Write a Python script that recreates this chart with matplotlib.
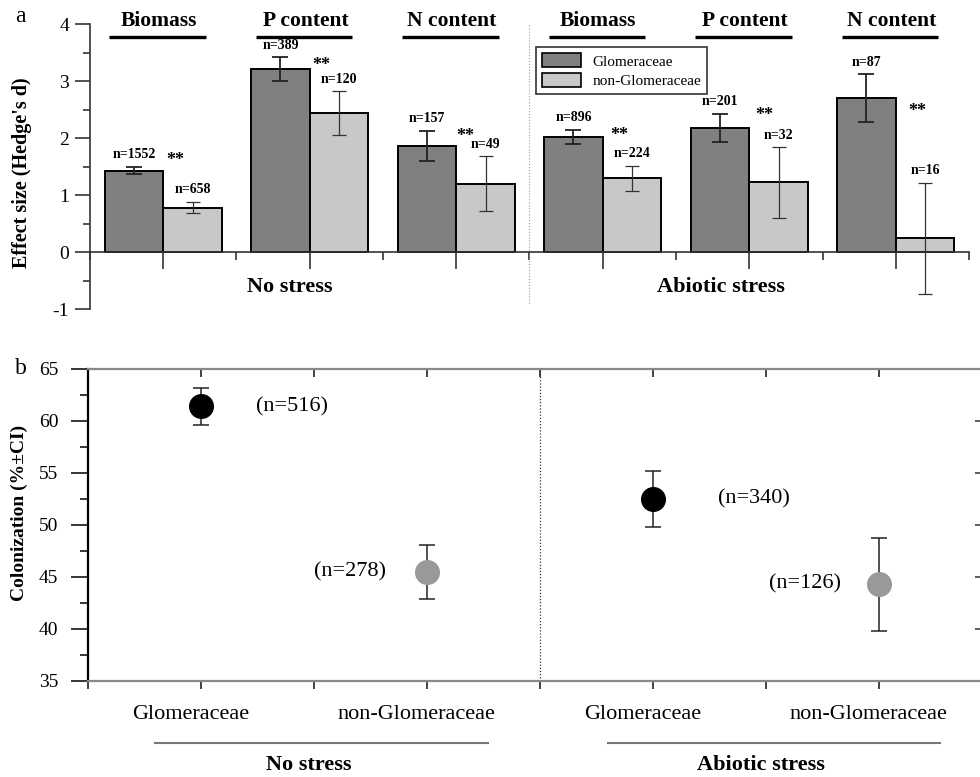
import numpy as np
import matplotlib
matplotlib.use("Agg")
import matplotlib.pyplot as plt
from matplotlib.patches import Patch
from matplotlib.ticker import MultipleLocator, FixedLocator, NullFormatter
import matplotlib.transforms as mtrans

plt.rcParams['font.family'] = ['Liberation Serif', 'DejaVu Serif']
plt.rcParams['axes.unicode_minus'] = False

# ---------------- data: panel a ----------------
measures = ["Biomass", "P content", "N content", "Biomass", "P content", "N content"]
conditions = ["No stress", "Abiotic stress"]
glom_mean = [1.43, 3.21, 1.86, 2.02, 2.18, 2.70]
glom_err = [0.07, 0.21, 0.27, 0.12, 0.25, 0.42]
non_mean = [0.78, 2.44, 1.20, 1.29, 1.22, 0.24]
non_err = [0.10, 0.38, 0.48, 0.22, 0.62, 0.97]
glom_n = [1552, 389, 157, 896, 201, 87]
non_n = [658, 120, 49, 224, 32, 16]
series_names = ["Glomeraceae", "non-Glomeraceae"]

# ---------------- data: panel b ----------------
col_labels = ["Glomeraceae", "non-Glomeraceae", "Glomeraceae", "non-Glomeraceae"]
col_mean = [61.4, 45.5, 52.5, 44.3]
col_err = [1.8, 2.6, 2.65, 4.45]
col_n = [516, 278, 340, 126]

# layout constants for annotations
star_dx = [0.08, 0.08, 0.06, 0.11, 0.10, 0.15]
star_y = [1.61, 3.27, 2.02, 2.04, 2.39, 2.46]
nlab_dx = [0.245, -0.18, 0.29, -0.17]

DARK = '#808080'
LIGHT = '#c8c8c8'

fig = plt.figure(figsize=(9.8, 7.77), dpi=100)

# ================= panel a =================
ax = fig.add_axes([0.0918, 0.6023, 0.897, 0.3668])
x = np.arange(len(measures))
w = 0.4
ax.bar(x - w / 2, glom_mean, w, color=DARK, edgecolor='black', linewidth=1.4, zorder=2)
ax.bar(x + w / 2, non_mean, w, color=LIGHT, edgecolor='black', linewidth=1.4, zorder=2)
ax.errorbar(x - w / 2, glom_mean, yerr=glom_err, fmt='none', ecolor='#222222',
            elinewidth=1.3, capsize=5.5, capthick=1.3, zorder=3)
ax.errorbar(x + w / 2, non_mean, yerr=non_err, fmt='none', ecolor='#333333',
            elinewidth=0.9, capsize=5.0, capthick=0.9, zorder=3)

for i in range(len(x)):
    ax.annotate(f"n={glom_n[i]}", (x[i] - w / 2, glom_mean[i] + glom_err[i]),
                xytext=(0, 4), textcoords='offset points', ha='center', va='bottom',
                fontsize=10, fontweight='bold')
    ax.annotate(f"n={non_n[i]}", (x[i] + w / 2, non_mean[i] + non_err[i]),
                xytext=(0, 4), textcoords='offset points', ha='center', va='bottom',
                fontsize=10, fontweight='bold')
    ax.text(x[i] + star_dx[i], star_y[i], "**", ha='center', va='center',
            fontsize=13, fontweight='bold')
    ax.text(x[i] - 0.03, 4.05, measures[i], ha='center', va='center',
            fontsize=15.5, fontweight='bold', clip_on=False)
    ax.plot([x[i] - 0.04 - 0.33, x[i] - 0.04 + 0.33], [3.77, 3.77], color='black',
            lw=2.4, clip_on=False, solid_capstyle='butt')

ax.text(0.865, -0.61, conditions[0], ha='center', va='center', fontsize=16, fontweight='bold')
ax.text(3.81, -0.61, conditions[1], ha='center', va='center', fontsize=16, fontweight='bold')

ax.axvline(2.5, ymin=0.02, ymax=1.0, color='#999999', lw=0.8, ls=':')

ax.set_xlim(-0.5, 5.5)
ax.set_ylim(-1, 4)
for s in ['top', 'right']:
    ax.spines[s].set_visible(False)
ax.spines['bottom'].set_position(('data', 0))
ax.spines['left'].set_linewidth(1.2)
ax.spines['bottom'].set_linewidth(1.2)
ax.spines['left'].set_color('#333333')
ax.spines['bottom'].set_color('#333333')
ax.xaxis.set_major_locator(FixedLocator(x))
ax.xaxis.set_minor_locator(FixedLocator(np.arange(-0.5, 6.0, 1.0)))
ax.xaxis.set_major_formatter(NullFormatter())
ax.tick_params(axis='x', which='major', length=12, width=1.2, direction='out', color='#333333')
ax.tick_params(axis='x', which='minor', length=6, width=1.2, direction='out', color='#333333')
ax.yaxis.set_major_locator(MultipleLocator(1))
ax.yaxis.set_minor_locator(MultipleLocator(0.5))
ax.tick_params(axis='y', which='major', length=11, width=1.2, labelsize=14, pad=4, color='#333333')
ax.tick_params(axis='y', which='minor', length=5, width=1.2, color='#333333')
ax.set_ylabel("Effect size (Hedge's d)", fontsize=14.5, fontweight='bold')
ax.yaxis.set_label_coords(-0.066, 0.48)

handles = [Patch(facecolor=DARK, edgecolor='black', linewidth=1.2),
           Patch(facecolor=LIGHT, edgecolor='black', linewidth=1.2)]
leg = ax.legend(handles, series_names, loc='upper left', bbox_to_anchor=(0.507, 0.918),
                fontsize=11, frameon=True, fancybox=False, edgecolor='black',
                handlelength=2.6, handleheight=1.0, borderpad=0.4, labelspacing=0.3,
                handletextpad=0.7, borderaxespad=0)
leg.get_frame().set_linewidth(1.2)

fig.text(15 / 980, 1 - 17 / 777, "a", fontsize=17, ha='left', va='center')

# ================= panel b =================
ax2 = fig.add_axes([0.0893, 0.1236, 0.923, 0.4015])
px = np.arange(len(col_labels))
point_colors = ['black', '#999999', 'black', '#999999']
for i in range(len(px)):
    ax2.errorbar(px[i], col_mean[i], yerr=col_err[i], fmt='o', color=point_colors[i],
                 markersize=17, ecolor='#222222', elinewidth=1.1, capsize=5.8,
                 capthick=1.1, zorder=3)
    ax2.text(px[i] + nlab_dx[i], col_mean[i], f"(n={col_n[i]})",
             ha='left' if nlab_dx[i] > 0 else 'right', va='center', fontsize=16)

ax2.axvline(1.5, color='#333333', lw=0.9, ls=(0, (1, 1.5)))
ax2.set_xlim(-0.5, 3.5)
ax2.set_ylim(35, 65)
ax2.yaxis.set_major_locator(MultipleLocator(5))
ax2.yaxis.set_minor_locator(MultipleLocator(2.5))
ax2.xaxis.set_major_locator(FixedLocator(px))
ax2.xaxis.set_minor_locator(FixedLocator(np.arange(-0.5, 4.0, 1.0)))
ax2.xaxis.set_major_formatter(NullFormatter())
ax2.tick_params(axis='y', which='major', left=True, right=False, direction='out',
                length=12, width=1.1, labelsize=14, pad=9)
ax2.tick_params(axis='y', which='minor', left=True, right=False, length=6, width=1.1)
for s in ['top', 'bottom']:
    ax2.spines[s].set_color('#888888')
    ax2.spines[s].set_linewidth(1.6)
ax2.spines['left'].set_color('black')
ax2.spines['left'].set_linewidth(1.6)
ax2.spines['right'].set_color('#888888')

ax2.tick_params(axis='x', which='both', bottom=True, top=False, direction='out',
                length=6, width=1.3, color='#333333')
sec = ax2.secondary_xaxis('top')
sec.xaxis.set_major_locator(FixedLocator(px))
sec.xaxis.set_minor_locator(FixedLocator(np.arange(-0.5, 4.0, 1.0)))
sec.xaxis.set_major_formatter(NullFormatter())
sec.tick_params(axis='x', which='both', direction='in', length=6, width=1.3, color='#333333')
sec.spines['top'].set_visible(False)
secy = ax2.secondary_yaxis('right')
secy.yaxis.set_major_locator(MultipleLocator(5))
secy.yaxis.set_minor_locator(MultipleLocator(2.5))
secy.yaxis.set_major_formatter(NullFormatter())
secy.tick_params(axis='y', which='major', direction='in', length=12, width=1.1, color='#333333')
secy.tick_params(axis='y', which='minor', direction='in', length=6, width=1.1, color='#333333')
secy.spines['right'].set_color('#888888')

trans = mtrans.blended_transform_factory(ax2.transData, ax2.transAxes)
for i in range(len(px)):
    ax2.text(px[i] - 0.045, -0.106, col_labels[i], transform=trans, ha='center',
             va='center', fontsize=16)
for g in range(2):
    mid = 0.5 + 2 * g
    ax2.plot([mid - 0.70, mid + 0.77], [-0.199, -0.199], transform=trans, color='#777777',
             lw=1.5, clip_on=False)
    ax2.text(mid - 0.02, -0.269, conditions[g], transform=trans, ha='center', va='center',
             fontsize=16, fontweight='bold')

ax2.set_ylabel("Colonization (%±CI)", fontsize=14, fontweight='bold')
ax2.yaxis.set_label_coords(-0.066, 0.54)

fig.text(15 / 980, 1 - 369 / 777, "b", fontsize=17, ha='left', va='center')

fig.savefig("out.png", dpi=100)
